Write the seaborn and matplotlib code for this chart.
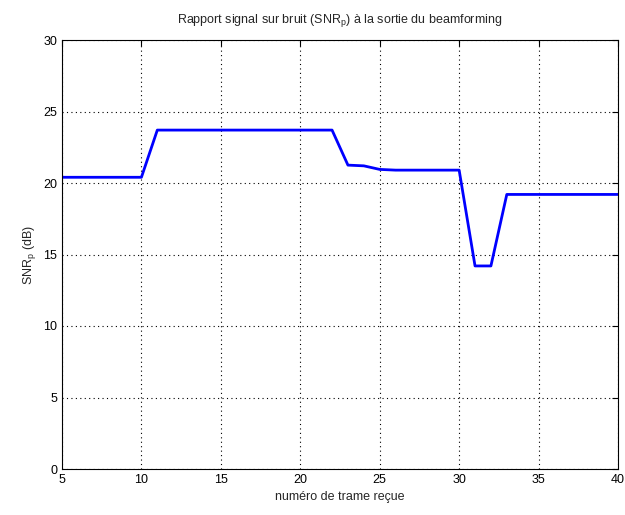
import matplotlib
matplotlib.use("Agg")
import matplotlib.pyplot as plt
import seaborn as sns
import pandas as pd

frames = [5, 6, 7, 8, 9, 10, 11, 12, 13, 14, 15, 16, 17, 18, 19, 20, 21, 22,
          23, 24, 25, 26, 27, 28, 29, 30, 31, 32, 33, 34, 35, 36, 37, 38, 39, 40]
snr = [20.4, 20.4, 20.4, 20.4, 20.4, 20.4, 23.7, 23.7, 23.7, 23.7, 23.7, 23.7,
       23.7, 23.7, 23.7, 23.7, 23.7, 23.7, 21.25, 21.2, 20.95, 20.9, 20.9, 20.9,
       20.9, 20.9, 14.2, 14.2, 19.2, 19.2, 19.2, 19.2, 19.2, 19.2, 19.2, 19.2]
xticks = [5, 10, 15, 20, 25, 30, 35, 40]
yticks = [0, 5, 10, 15, 20, 25, 30]

df = pd.DataFrame({"frame": frames, "snr": snr})

sns.set_style("white")
plt.rcParams['font.family'] = ['Liberation Sans', 'DejaVu Sans']

fig = plt.figure(figsize=(6.25, 5.15), dpi=100)
ax = fig.add_axes([62/625, 46/515, 556/625, 429/515])
sns.lineplot(data=df, x="frame", y="snr", ax=ax, color="#0000ff", linewidth=2.0)

ax.set_xlim(5, 40)
ax.set_ylim(0, 30)
ax.set_xticks(xticks)
ax.set_yticks(yticks)
ax.grid(True, color="black", linestyle=(0, (1, 3)), linewidth=0.8)
ax.tick_params(direction="in", length=4, labelsize=9, colors="black", top=True, right=True)
for s in ax.spines.values():
    s.set_color("black")
    s.set_linewidth(0.8)
    s.set_visible(True)

ax.set_xlabel("numéro de trame reçue", fontsize=9)
ax.set_ylabel("SNR$_\\mathregular{p}$ (dB)", fontsize=9)
ax.set_title("Rapport signal sur bruit (SNR$_\\mathregular{p}$) à la sortie du beamforming", fontsize=9, pad=12)

fig.savefig("out.png", dpi=100)
